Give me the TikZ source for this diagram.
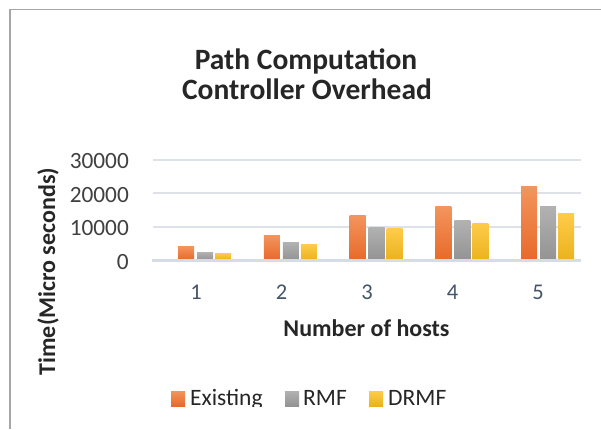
\documentclass[tikz,border=0pt]{standalone}
\usepackage{fontspec}
\setmainfont{Carlito}
\definecolor{framegray}{HTML}{A6A6A6}
\definecolor{gridcol}{HTML}{DDE1E8}
\definecolor{basecol}{HTML}{D6DCE5}
\definecolor{txtdark}{HTML}{262626}
\definecolor{ticktxt}{HTML}{404040}
\definecolor{cattxt}{HTML}{44546A}
\definecolor{orTop}{HTML}{F3955D}
\definecolor{orBot}{HTML}{E8692A}
\definecolor{grTop}{HTML}{B2B2B2}
\definecolor{grBot}{HTML}{939393}
\definecolor{yeTop}{HTML}{FFCC4A}
\definecolor{yeBot}{HTML}{E9B21E}
\tikzset{
  exbar/.style={top color=orTop, bottom color=orBot, draw=none},
  rmbar/.style={top color=grTop, bottom color=grBot, draw=none},
  drbar/.style={top color=yeTop, bottom color=yeBot, draw=none},
  gridline/.style={draw=gridcol, line width=2pt},
  ticklab/.style={anchor=base east, inner sep=0pt, text=ticktxt, font=\fontsize{23.3}{28}\selectfont},
  catlab/.style={anchor=base, inner sep=0pt, text=cattxt, font=\fontsize{22.5}{27}\selectfont},
  axtitle/.style={inner sep=0pt, text=txtdark, font=\bfseries\fontsize{24}{29}\selectfont},
  charttitle/.style={anchor=base, inner sep=0pt, text=txtdark, font=\bfseries\fontsize{29.5}{35}\selectfont},
  legtxt/.style={anchor=base west, inner sep=0pt, text=txtdark, font=\fontsize{23.5}{28}\selectfont}
}
\begin{document}
\begin{tikzpicture}[x=1pt,y=-1pt]
\useasboundingbox (0,0) rectangle (601,429);
% frame
\draw[framegray, line width=1.2pt] (10,429) -- (10,9.8) -- (601,9.8);
% title
\node[charttitle] (t1) at (306,69.3) {Path Computation};
\node[charttitle] (t2) at (307,99.3) {Controller Overhead};
% gridlines
\draw[gridline] (152.5,159.5) -- (581,159.5);
\draw[gridline] (152.5,193.3) -- (581,193.3);
\draw[gridline] (152.5,227) -- (581,227);
% tick labels
\node[ticklab] (y3) at (129,168.3) {30000};
\node[ticklab] (y2) at (129,202) {20000};
\node[ticklab] (y1) at (129,235.7) {10000};
\node[ticklab] (y0) at (129,269.3) {0};
% bars
\foreach \k/\a/\b/\c in {0/246/252/253, 1/235/242/244, 2/215/227/228, 3/206/220/223, 4/186/206/213}{
  \pgfmathsetmacro{\xl}{178+85.75*\k}
  \shade[exbar] (\xl,\a) rectangle ({\xl+16},260);
  \shade[rmbar] ({\xl+19},\b) rectangle ({\xl+35},260);
  \shade[drbar] ({\xl+37},\c) rectangle ({\xl+53},260);
}
% baseline
\draw[draw=basecol, line width=3pt] (152,260.5) -- (581,260.5);
% category labels
\node[catlab] (c1) at (196,299) {1};
\node[catlab] (c2) at (281.5,299) {2};
\node[catlab] (c3) at (367,299) {3};
\node[catlab] (c4) at (452.5,299) {4};
\node[catlab] (c5) at (538,299) {5};
% axis titles
\node[axtitle, anchor=base] (xt) at (366.5,336.7) {Number of hosts};
\node[axtitle, anchor=base, rotate=90] (yt) at (55,271.5) {Time(Micro seconds)};
% legend (clipped at bottom)
\begin{scope}
\clip (0,0) rectangle (601,406.5);
\shade[exbar] (171,391) rectangle (185,406);
\node[legtxt] (l1) at (190,405) {Existing};
\shade[rmbar] (285,391) rectangle (299,406);
\node[legtxt] (l2) at (303,405) {RMF};
\shade[drbar] (369,391) rectangle (383,406);
\node[legtxt] (l3) at (388,405) {DRMF};
\end{scope}
\end{tikzpicture}
\end{document}
